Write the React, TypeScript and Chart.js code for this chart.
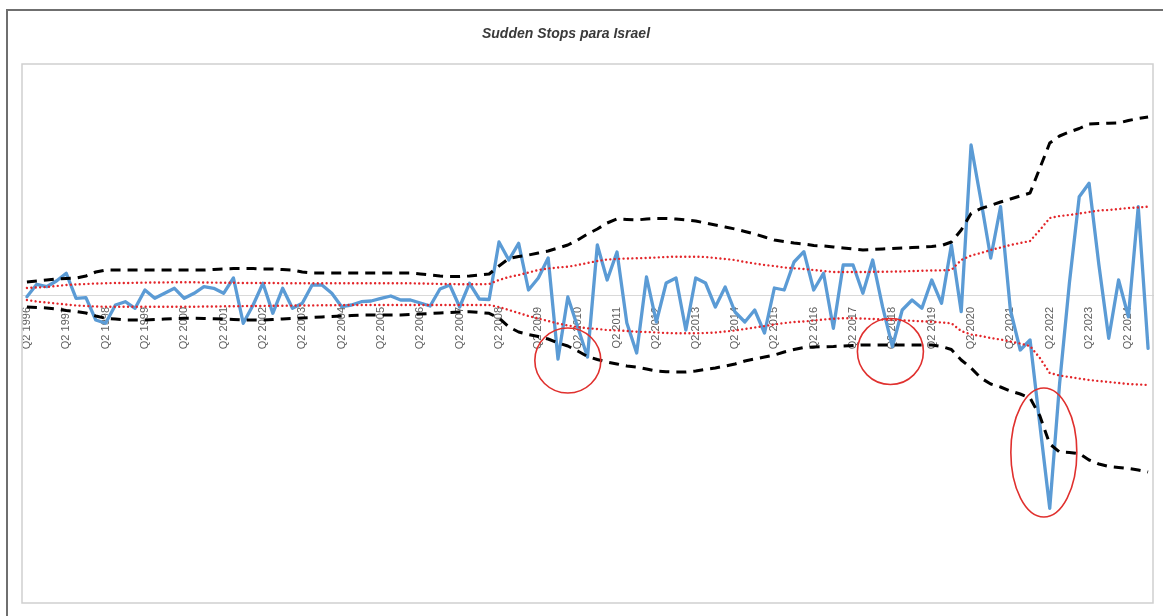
import React, { useEffect, useRef } from "react";
import { Chart, registerables } from "chart.js";

Chart.register(...registerables);

// Flows (arbitrary units), quarterly Q2 1996 .. Q4 2024
const FLOWS = [
  -0.17, 1.07, 0.83, 1.4, 2.17, -0.33, -0.27, -2.5, -2.83, -1.0,
  -0.67, -1.33, 0.5, -0.33, 0.17, 0.67, -0.33, 0.17, 0.83, 0.67,
  0.17, 1.7, -2.83, -1.0, 1.17, -1.83, 0.67, -1.33, -0.83, 1.0,
  1.0, 0.17, -1.17, -1.0, -0.67, -0.6, -0.33, -0.1, -0.5, -0.5,
  -0.8, -1.1, 0.6, 1.0, -1.2, 1.17, -0.4, -0.45, 5.3, 3.5,
  5.17, 0.5, 1.7, 3.7, -6.4, -0.2, -3.2, -6.2, 5.0, 1.5,
  4.3, -2.8, -5.8, 1.8, -2.7, 1.2, 1.7, -3.5, 1.7, 1.2,
  -1.2, 0.8, -1.7, -2.7, -1.5, -3.8, 0.7, 0.5, 3.3, 4.33,
  0.5, 2.17, -3.33, 3.0, 3.0, 0.17, 3.5, -1.17, -5.17, -1.5,
  -0.5, -1.33, 1.5, -0.83, 5.0, -1.67, 15.0, 9.5, 3.7, 8.83,
  -1.5, -5.5, -4.5, -13.0, -21.33, -8.9, 1.2, 9.83, 11.17, 3.0,
  -4.33, 1.5, -2.17, 8.83, -5.33,
];

// mean + 2 sd
const UPPER_2SD = [
  1.3, 1.4, 1.5, 1.6, 1.65, 1.7, 1.9, 2.3, 2.5, 2.5,
  2.5, 2.5, 2.5, 2.5, 2.5, 2.5, 2.5, 2.5, 2.5, 2.55,
  2.6, 2.65, 2.65, 2.65, 2.6, 2.6, 2.55, 2.5, 2.3, 2.2,
  2.2, 2.2, 2.2, 2.2, 2.2, 2.2, 2.2, 2.2, 2.2, 2.2,
  2.1, 2.0, 1.9, 1.85, 1.85, 1.9, 2.0, 2.1, 2.9, 3.65,
  3.85, 4.0, 4.2, 4.4, 4.7, 5.0, 5.5, 6.1, 6.6, 7.2,
  7.6, 7.55, 7.5, 7.6, 7.65, 7.65, 7.6, 7.5, 7.4, 7.2,
  7.0, 6.8, 6.6, 6.35, 6.1, 5.8, 5.5, 5.35, 5.2, 5.1,
  4.95, 4.9, 4.8, 4.7, 4.6, 4.5, 4.55, 4.6, 4.65, 4.7,
  4.75, 4.8, 4.85, 4.95, 5.3, 6.5, 8.15, 8.65, 8.95, 9.3,
  9.6, 9.9, 10.2, 12.7, 15.2, 15.9, 16.3, 16.65, 17.1, 17.15,
  17.17, 17.2, 17.45, 17.65, 17.8,
];

// mean + 1 sd
const UPPER_1SD = [
  0.7, 0.75, 0.8, 0.9, 1.0, 1.05, 1.1, 1.15, 1.17, 1.2,
  1.2, 1.22, 1.24, 1.25, 1.26, 1.27, 1.27, 1.27, 1.25, 1.24,
  1.23, 1.22, 1.2, 1.2, 1.2, 1.2, 1.18, 1.17, 1.17, 1.17,
  1.17, 1.17, 1.17, 1.17, 1.17, 1.17, 1.17, 1.17, 1.17, 1.17,
  1.15, 1.13, 1.1, 1.1, 1.08, 1.07, 1.07, 1.1, 1.5, 1.8,
  2.0, 2.25, 2.5, 2.65, 2.75, 2.83, 3.0, 3.2, 3.4, 3.55,
  3.6, 3.65, 3.67, 3.7, 3.75, 3.8, 3.83, 3.83, 3.83, 3.8,
  3.7, 3.6, 3.5, 3.3, 3.15, 3.0, 2.9, 2.75, 2.67, 2.6,
  2.5, 2.4, 2.3, 2.3, 2.3, 2.3, 2.32, 2.33, 2.34, 2.35,
  2.4, 2.42, 2.45, 2.47, 2.5, 3.5, 3.95, 4.2, 4.5, 4.75,
  5.0, 5.2, 5.4, 6.5, 7.7, 7.9, 8.0, 8.15, 8.3, 8.45,
  8.5, 8.6, 8.7, 8.75, 8.83,
];

// mean - 1 sd
const LOWER_1SD = [
  -0.5, -0.65, -0.75, -0.85, -0.95, -1.05, -1.1, -1.15, -1.17, -1.17,
  -1.17, -1.17, -1.17, -1.17, -1.17, -1.17, -1.17, -1.17, -1.15, -1.15,
  -1.13, -1.12, -1.11, -1.1, -1.09, -1.08, -1.07, -1.06, -1.05, -1.04,
  -1.03, -1.02, -1.01, -1.0, -1.0, -1.0, -1.0, -1.0, -1.0, -1.0,
  -1.0, -1.0, -1.0, -1.0, -1.0, -1.0, -1.0, -1.0, -1.2, -1.5,
  -1.8, -2.1, -2.35, -2.6, -2.85, -3.05, -3.2, -3.33, -3.4, -3.5,
  -3.55, -3.6, -3.67, -3.7, -3.75, -3.8, -3.83, -3.83, -3.83, -3.8,
  -3.75, -3.65, -3.55, -3.4, -3.25, -3.1, -2.95, -2.8, -2.7, -2.65,
  -2.55, -2.45, -2.38, -2.33, -2.33, -2.35, -2.4, -2.45, -2.5, -2.53,
  -2.58, -2.63, -2.68, -2.75, -2.83, -3.6, -3.95, -4.1, -4.3, -4.45,
  -4.65, -4.85, -5.1, -6.3, -7.8, -8.05, -8.2, -8.35, -8.5, -8.6,
  -8.7, -8.8, -8.9, -8.95, -9.0,
];

// mean - 2 sd
const LOWER_2SD = [
  -1.2, -1.25, -1.3, -1.4, -1.55, -1.65, -1.8, -2.1, -2.33, -2.4,
  -2.5, -2.5, -2.5, -2.45, -2.4, -2.35, -2.33, -2.33, -2.35, -2.38,
  -2.4, -2.45, -2.5, -2.5, -2.5, -2.45, -2.4, -2.35, -2.3, -2.25,
  -2.2, -2.15, -2.1, -2.05, -2.0, -2.0, -2.0, -2.0, -2.0, -1.95,
  -1.9, -1.85, -1.8, -1.75, -1.7, -1.67, -1.75, -1.83, -2.3, -3.2,
  -3.7, -3.95, -4.15, -4.4, -4.8, -5.1, -5.6, -6.15, -6.45, -6.7,
  -6.9, -7.1, -7.2, -7.4, -7.6, -7.67, -7.7, -7.7, -7.6, -7.45,
  -7.3, -7.1, -6.9, -6.6, -6.4, -6.2, -6.0, -5.7, -5.45, -5.25,
  -5.2, -5.17, -5.15, -5.1, -5.05, -5.0, -5.0, -5.0, -5.0, -5.0,
  -5.0, -5.0, -5.0, -5.15, -5.45, -6.5, -7.3, -8.3, -8.9, -9.2,
  -9.6, -9.9, -10.3, -12.1, -14.9, -15.7, -15.75, -15.85, -16.5, -16.9,
  -17.15, -17.25, -17.35, -17.5, -17.7,
];

// Quarter labels, starting Q2 1996
const START_YEAR = 1996;
const START_QUARTER = 2;
const QUARTERS: string[] = FLOWS.map((_, k) => {
  const n = START_QUARTER - 1 + k;
  return `Q${(n % 4) + 1} ${START_YEAR + Math.floor(n / 4)}`;
});

// Red circles marking sudden stops (centre in data coords)
const STOP_MARKS = [
  { index: 55.0, value: -6.55, rx: 33, ry: 32.5 },
  { index: 87.8, value: -5.65, rx: 33, ry: 33 },
  { index: 103.4, value: -15.75, rx: 33, ry: 64.5 },
];

const TITLE = "Sudden Stops para Israel";

const decorPlugin = {
  id: "decor",
  beforeDraw(chart: any) {
    const { ctx, width, height } = chart;
    ctx.save();
    ctx.fillStyle = "#6f6f6f";
    ctx.fillRect(6, 9, 2, height - 9);
    ctx.fillRect(6, 9, width - 6, 2);
    ctx.restore();
  },
  afterDatasetsDraw(chart: any) {
    const { ctx, chartArea, scales } = chart;
    ctx.save();
    ctx.strokeStyle = "#cfcfcf";
    ctx.lineWidth = 1.5;
    ctx.strokeRect(chartArea.left, chartArea.top, chartArea.width, chartArea.height);
    ctx.strokeStyle = "#e0302e";
    ctx.lineWidth = 1.6;
    for (const m of STOP_MARKS) {
      const cx = scales.x.getPixelForValue(m.index);
      const cy = scales.y.getPixelForValue(m.value);
      ctx.beginPath();
      ctx.ellipse(cx, cy, m.rx, m.ry, 0, 0, Math.PI * 2);
      ctx.stroke();
    }
    ctx.restore();
  },
};

export default function App() {
  const canvasRef = useRef<HTMLCanvasElement | null>(null);

  useEffect(() => {
    document.body.style.overflow = "hidden";
    document.body.style.margin = "0";
    const canvas = canvasRef.current;
    if (!canvas) return;
    const band = (
      data: number[],
      color: string,
      width: number,
      dash: number[],
      cap: string,
      order: number
    ) => ({
      data,
      borderColor: color,
      borderWidth: width,
      borderDash: dash,
      borderCapStyle: cap,
      borderJoinStyle: "round",
      pointRadius: 0,
      tension: 0,
      fill: false,
      order,
    });
    const chart = new Chart(canvas, {
      type: "line",
      data: {
        labels: QUARTERS,
        datasets: [
          {
            data: FLOWS,
            borderColor: "#5b9bd5",
            borderWidth: 3.3,
            borderJoinStyle: "round",
            borderCapStyle: "round",
            pointRadius: 0,
            tension: 0,
            fill: false,
            order: 10,
          } as any,
          band(UPPER_2SD, "#000000", 3, [10, 7], "butt", 1) as any,
          band(LOWER_2SD, "#000000", 3, [10, 7], "butt", 2) as any,
          band(UPPER_1SD, "#e3262a", 2.4, [0.01, 4.4], "round", 3) as any,
          band(LOWER_1SD, "#e3262a", 2.4, [0.01, 4.4], "round", 4) as any,
        ],
      },
      options: {
        animation: false,
        responsive: false,
        devicePixelRatio: 1,
        layout: { padding: { left: 22, top: 64, right: 10, bottom: 13 } },
        plugins: {
          legend: { display: false },
          tooltip: { enabled: false },
          title: { display: false },
        },
        scales: {
          x: {
            type: "category",
            position: { y: 0 } as any,
            offset: true,
            grid: { display: false, drawTicks: true, tickLength: 9 },
            border: { display: true, color: "#d9d9d9", width: 1 },
            ticks: {
              autoSkip: false,
              maxRotation: 90,
              minRotation: 90,
              padding: 3,
              color: "#5f5f5f",
              font: { family: "'Liberation Sans', Arial, sans-serif", size: 11 },
              callback: (_v: any, i: number) => (i % 4 === 0 ? QUARTERS[i] : null),
            },
            afterFit: (scale: any) => {
              scale.height = 0;
            },
          } as any,
          y: {
            display: false,
            min: -30.8,
            max: 23.1,
          },
        },
      },
      plugins: [decorPlugin],
    });
    return () => chart.destroy();
  }, []);

  return (
    <div style={{ position: "fixed", left: 0, top: 0, width: 1163, height: 616, overflow: "hidden" }}>
      <canvas
        ref={canvasRef}
        width={1163}
        height={616}
        style={{ position: "absolute", left: 0, top: 0, display: "block" }}
      />
      <div
        style={{
          position: "absolute",
          left: 0,
          top: 25,
          width: 1132,
          textAlign: "center",
          fontFamily: "'Liberation Sans', Arial, sans-serif",
          fontWeight: "bold",
          fontStyle: "italic",
          fontSize: 14,
          lineHeight: "16px",
          color: "#3a3a3a",
        }}
      >
        {TITLE}
      </div>
    </div>
  );
}
